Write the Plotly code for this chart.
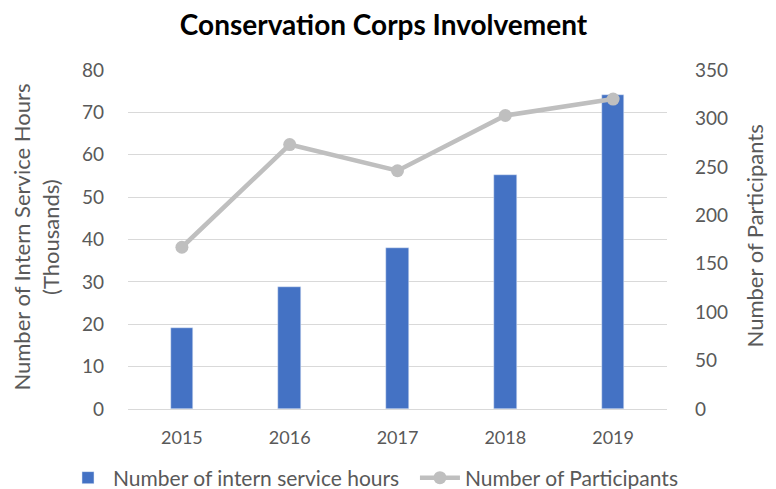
import plotly.graph_objects as go

# data
years = ["2015", "2016", "2017", "2018", "2019"]
hours_thousands = [19.1, 28.8, 37.9, 55.2, 74.1]
participants = [167, 273, 246, 303, 320]

FONT = "Lato"
GREY_TXT = "#595959"
NBSP = "\u00a0"

fig = go.Figure()

fig.add_trace(go.Bar(
    x=years,
    y=hours_thousands,
    name="Number of intern service hours" + NBSP * 2,
    marker=dict(color="#4472C4"),
    width=0.21,
    yaxis="y",
))

fig.add_trace(go.Scatter(
    x=years,
    y=participants,
    name="Number of Participants",
    mode="lines+markers",
    line=dict(color="#BFBFBF", width=4.5),
    marker=dict(color="#BFBFBF", size=13),
    yaxis="y2",
))

# page body has an 8px margin, so the figure is 8px smaller than the window
fig.update_layout(
    width=768,
    height=481,
    margin=dict(l=120, r=109, t=62, b=80, autoexpand=False),
    plot_bgcolor="white",
    paper_bgcolor="white",
    font=dict(family=FONT, color=GREY_TXT, size=18),
    title=dict(
        text="<b>Conservation Corps Involvement</b>",
        x=0.489, xanchor="center", y=0.965, yanchor="middle",
        font=dict(family=FONT, size=28, color="black"),
    ),
    xaxis=dict(
        showgrid=False, showline=True, linecolor="#D9D9D9", linewidth=1,
        ticks="", automargin=False, ticklabelstandoff=12,
        tickfont=dict(size=18, color=GREY_TXT),
    ),
    yaxis=dict(
        range=[0, 80], dtick=10, showgrid=True, gridcolor="#D9D9D9",
        gridwidth=1, zeroline=False, ticks="", automargin=False,
        tickfont=dict(size=19, color=GREY_TXT), ticklabelstandoff=23,
    ),
    yaxis2=dict(
        range=[0, 350], dtick=50, overlaying="y", side="right",
        showgrid=False, zeroline=False, ticks="", automargin=False,
        tickfont=dict(size=19, color=GREY_TXT), ticklabelstandoff=27,
    ),
    legend=dict(
        orientation="h", x=-0.1206, xanchor="left",
        y=-0.2035, yanchor="middle",
        font=dict(size=21, color=GREY_TXT), itemwidth=40,
    ),
    bargap=0,
    annotations=[
        dict(text="Number of Intern Service Hours<br>(Thousands)",
             xref="paper", yref="paper", x=-0.171, y=0.508,
             xanchor="center", yanchor="middle", textangle=-90,
             showarrow=False, font=dict(size=22, color=GREY_TXT)),
        dict(text="Number of Participants",
             xref="paper", yref="paper", x=1.162, y=0.51,
             xanchor="center", yanchor="middle", textangle=-90,
             showarrow=False, font=dict(size=22, color=GREY_TXT)),
    ],
)

fig.write_html("out.html")
